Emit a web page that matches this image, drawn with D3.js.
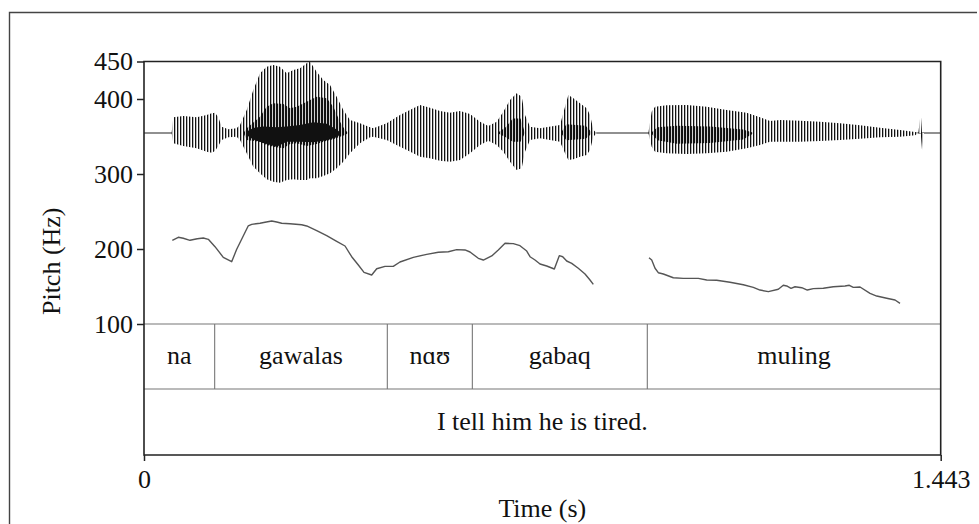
<!DOCTYPE html>
<html>
<head>
<meta charset="utf-8">
<script src="https://cdn.jsdelivr.net/npm/d3@7"></script>
<style>
  body { margin: 0; background: #fff; }
  svg text { font-family: "Liberation Serif", "Times New Roman", serif; font-size: 26px; fill: #111; }
</style>
</head>
<body>
<svg id="chart" width="979" height="524"></svg>
<script>
// ---- data ----
const timeDomain = [0, 1.443];
const pitchDomain = [100, 450];
const pitchTicks = [100, 200, 300, 400, 450];
const timeTicks = [0, 1.443];

// pitch contour, two voiced stretches (s, Hz)
const contour1Time = [0.0513, 0.0621, 0.0712, 0.0833, 0.0965, 0.1074, 0.1165, 0.1286, 0.1436, 0.1588, 0.1679, 0.1887, 0.1951, 0.2101, 0.2192, 0.2313, 0.2404, 0.2494, 0.2644, 0.2856, 0.2947, 0.3128, 0.3309, 0.3490, 0.3641, 0.3762, 0.3882, 0.3985, 0.4124, 0.4215, 0.4365, 0.4515, 0.4636, 0.4878, 0.5120, 0.5331, 0.5512, 0.5664, 0.5814, 0.5905, 0.6055, 0.6146, 0.6298, 0.6417, 0.6539, 0.6689, 0.6810, 0.6932, 0.6992, 0.7082, 0.7173, 0.7294, 0.7432, 0.7522, 0.7584, 0.7656, 0.7747, 0.7866, 0.7988, 0.8078, 0.8138];
const contour1Hz = [211.6, 215.6, 214.3, 211.6, 213.7, 214.7, 212.9, 203.1, 188.9, 183.1, 199.6, 230.7, 232.9, 234.3, 235.6, 237.3, 236.0, 234.3, 233.7, 232.4, 230.7, 224.4, 217.7, 210.3, 204.0, 189.7, 178.7, 168.9, 165.3, 173.7, 176.9, 176.9, 182.7, 188.9, 192.9, 195.6, 196.4, 199.1, 198.7, 196.0, 187.6, 185.3, 190.7, 198.7, 207.6, 207.1, 204.4, 197.3, 189.7, 185.3, 180.0, 177.3, 173.3, 191.1, 189.7, 184.0, 180.9, 174.3, 166.7, 158.7, 152.9];
const contour2Time = [0.9147, 0.9196, 0.9256, 0.9315, 0.9406, 0.9587, 0.9768, 1.0040, 1.0192, 1.0373, 1.0614, 1.0855, 1.1036, 1.1157, 1.1308, 1.1489, 1.1579, 1.1641, 1.1719, 1.1791, 1.1913, 1.2014, 1.2123, 1.2304, 1.2485, 1.2697, 1.2775, 1.2847, 1.2969, 1.3150, 1.3271, 1.3452, 1.3603, 1.3693];
const contour2Hz = [188.4, 185.3, 174.3, 168.4, 166.7, 161.7, 160.9, 160.9, 158.7, 158.3, 155.6, 152.4, 148.9, 145.3, 143.1, 146.3, 151.6, 150.7, 147.6, 149.7, 148.4, 145.3, 147.1, 147.6, 149.7, 150.7, 151.6, 148.9, 149.3, 140.9, 137.3, 134.3, 132.0, 127.6];

// waveform envelope (s, relative amplitude)
const waveTime = [0, 0.050, 0.0531, 0.0712, 0.0954, 0.1135, 0.1226, 0.1286, 0.1346, 0.1407, 0.1527, 0.1678, 0.1739, 0.1860, 0.1980, 0.2101, 0.2222, 0.2343, 0.2463, 0.2584, 0.2705, 0.2826, 0.2946, 0.3007, 0.3127, 0.3248, 0.3369, 0.3490, 0.3610, 0.3731, 0.3912, 0.4094, 0.4154, 0.4395, 0.4637, 0.4878, 0.4999, 0.5180, 0.5361, 0.5542, 0.5724, 0.5905, 0.6086, 0.6237, 0.6388, 0.6508, 0.6629, 0.6750, 0.6841, 0.6901, 0.6992, 0.7173, 0.7535, 0.7626, 0.7686, 0.7777, 0.7897, 0.8018, 0.8079, 0.8139, 0.8199, 0.9135, 0.9195, 0.9256, 0.9467, 0.9829, 1.0192, 1.0554, 1.0916, 1.1157, 1.1338, 1.1520, 1.1882, 1.2244, 1.2607, 1.2969, 1.3331, 1.3694, 1.3966, 1.4025, 1.4068, 1.4092, 1.4128, 1.443];
const waveUpper = [0, 0, 0.218, 0.236, 0.218, 0.25, 0.273, 0.282, 0.218, 0.088, 0.051, 0.065, 0.111, 0.319, 0.597, 0.829, 0.921, 0.944, 0.921, 0.829, 0.875, 0.898, 0.968, 0.99, 0.852, 0.736, 0.667, 0.505, 0.319, 0.181, 0.134, 0.079, 0.065, 0.134, 0.25, 0.343, 0.389, 0.352, 0.306, 0.282, 0.306, 0.264, 0.157, 0.097, 0.157, 0.296, 0.458, 0.551, 0.505, 0.25, 0.088, 0.065, 0.111, 0.366, 0.528, 0.481, 0.412, 0.343, 0.25, 0.042, 0, 0, 0.296, 0.366, 0.384, 0.389, 0.366, 0.319, 0.282, 0.218, 0.167, 0.181, 0.171, 0.157, 0.134, 0.106, 0.074, 0.042, 0.014, 0, 0.282, 0, 0, 0];
const waveLower = [0, 0, -0.144, -0.181, -0.213, -0.259, -0.273, -0.25, -0.181, -0.097, -0.060, -0.051, -0.097, -0.282, -0.468, -0.560, -0.644, -0.676, -0.690, -0.653, -0.644, -0.653, -0.653, -0.630, -0.630, -0.597, -0.560, -0.491, -0.398, -0.282, -0.144, -0.060, -0.051, -0.097, -0.190, -0.282, -0.329, -0.352, -0.384, -0.398, -0.375, -0.282, -0.167, -0.106, -0.167, -0.259, -0.398, -0.514, -0.491, -0.259, -0.097, -0.074, -0.120, -0.282, -0.375, -0.366, -0.329, -0.306, -0.236, -0.051, 0, 0, -0.190, -0.259, -0.282, -0.292, -0.282, -0.259, -0.213, -0.167, -0.120, -0.120, -0.120, -0.111, -0.097, -0.079, -0.060, -0.051, -0.032, 0, 0, -0.236, 0, 0];

// darker middle of the waveform
const midTime = [0.18, 0.1860, 0.2101, 0.2222, 0.2343, 0.2524, 0.2645, 0.2765, 0.2946, 0.3127, 0.3309, 0.3429, 0.3550, 0.3641, 0.37, 0.64, 0.655, 0.668, 0.682, 0.69, 0.755, 0.765, 0.80, 0.812, 0.918, 0.93, 0.965, 1.025, 1.085, 1.105];
const midUpper = [0, 0.065, 0.227, 0.366, 0.412, 0.403, 0.343, 0.366, 0.435, 0.505, 0.481, 0.366, 0.157, 0.042, 0, 0, 0.08, 0.2, 0.2, 0, 0, 0.12, 0.1, 0, 0, 0.08, 0.1, 0.09, 0.05, 0];
const midLower = [0, -0.097, -0.120, -0.167, -0.190, -0.213, -0.153, -0.144, -0.181, -0.153, -0.106, -0.088, -0.051, -0.028, 0, 0, -0.06, -0.12, -0.12, 0, 0, -0.1, -0.08, 0, 0, -0.1, -0.15, -0.14, -0.09, 0];

// solid core of the loud part
const coreTime = [0.1860, 0.1980, 0.2161, 0.2403, 0.2584, 0.2826, 0.3067, 0.3309, 0.3490, 0.3550];
const coreUpper = [0.02, 0.07, 0.09, 0.08, 0.09, 0.11, 0.15, 0.13, 0.05, 0.01];
const coreLower = [-0.03, -0.09, -0.14, -0.19, -0.12, -0.12, -0.13, -0.10, -0.06, -0.02];

// text grid
const wordBounds = [0, 0.128, 0.4407, 0.5947, 0.9116, 1.443];
const wordLabels = ['na', 'gawalas', 'nɑʊ', 'gabaq', 'muling'];
const sentenceLabel = 'I tell him he is tired.';

// ---- layout ----
const svg = d3.select('#chart');
const plot = { left: 144, right: 940.7, top: 61.5, pitchBottom: 324, tierMid: 389, bottom: 455 };

const x = d3.scaleLinear().domain(timeDomain).range([plot.left, plot.right]);
const yPitch = d3.scaleLinear().domain(pitchDomain).range([plot.pitchBottom, plot.top]);
const yAmp = d3.scaleLinear().domain([-1, 1]).range([205, 61]); // waveform sits in the upper half

const defs = svg.append('defs');
defs.append('clipPath').attr('id', 'plotClip')
  .append('rect')
  .attr('x', plot.left).attr('y', plot.top)
  .attr('width', plot.right - plot.left).attr('height', plot.pitchBottom - plot.top);

function stripePattern(id, lineWidth) { // glottal pulses look like vertical stripes
  const p = defs.append('pattern')
    .attr('id', id).attr('patternUnits', 'userSpaceOnUse')
    .attr('width', 3).attr('height', 10);
  p.append('rect').attr('width', 3).attr('height', 10).attr('fill', '#fff');
  p.append('rect').attr('width', lineWidth).attr('height', 10).attr('fill', '#111');
}
stripePattern('stripes', 1.3);
stripePattern('stripesDense', 2.2);

// outer frame (only top/left visible)
svg.append('path')
  .attr('d', 'M9.5,530V12.5H977')
  .attr('fill', 'none').attr('stroke', '#444').attr('stroke-width', 1.4);

// ---- waveform ----
const wave = svg.append('g').attr('clip-path', 'url(#plotClip)');

function envelope(times, upper, lower) {
  return times.map((t, i) => ({ t: t, hi: upper[i], lo: lower[i] }));
}
const envArea = d3.area()
  .x(d => x(d.t))
  .y0(d => yAmp(d.lo))
  .y1(d => yAmp(d.hi));

wave.append('path') // zero line, visible in the silences
  .datum(timeDomain)
  .attr('d', d3.line().x(d => x(d)).y(() => yAmp(0)))
  .attr('fill', 'none').attr('stroke', '#222').attr('stroke-width', 1.2);
wave.append('path')
  .datum(envelope(waveTime, waveUpper, waveLower))
  .attr('d', envArea)
  .attr('fill', 'url(#stripes)');
wave.append('path')
  .datum(envelope(midTime, midUpper, midLower))
  .attr('d', envArea)
  .attr('fill', 'url(#stripesDense)');
wave.append('path')
  .datum(envelope(coreTime, coreUpper, coreLower))
  .attr('d', envArea)
  .attr('fill', '#111');

// ---- pitch contour ----
const pitchLine = d3.line().x(d => x(d[0])).y(d => yPitch(d[1]));
[[contour1Time, contour1Hz], [contour2Time, contour2Hz]].forEach(([ts, hz]) => {
  svg.append('path')
    .datum(ts.map((t, i) => [t, hz[i]]))
    .attr('d', pitchLine)
    .attr('fill', 'none').attr('stroke', '#555').attr('stroke-width', 1.4)
    .attr('stroke-linejoin', 'round');
});

// ---- text grid ----
const grid = svg.append('g').attr('stroke', '#777').attr('stroke-width', 1.1);
grid.append('line').attr('x1', x(timeDomain[0])).attr('x2', x(timeDomain[1]))
  .attr('y1', plot.pitchBottom).attr('y2', plot.pitchBottom);
grid.append('line').attr('x1', x(timeDomain[0])).attr('x2', x(timeDomain[1]))
  .attr('y1', plot.tierMid).attr('y2', plot.tierMid);
grid.selectAll('.bound')
  .data(wordBounds.slice(1, -1))
  .enter().append('line')
  .attr('class', 'bound')
  .attr('x1', d => x(d)).attr('x2', d => x(d))
  .attr('y1', plot.pitchBottom).attr('y2', plot.tierMid);

svg.selectAll('.word')
  .data(wordLabels)
  .enter().append('text')
  .attr('class', 'word')
  .attr('x', (d, i) => x((wordBounds[i] + wordBounds[i + 1]) / 2))
  .attr('y', 363.5)
  .attr('text-anchor', 'middle')
  .text(d => d);

svg.append('text')
  .attr('x', x((timeDomain[0] + timeDomain[1]) / 2))
  .attr('y', 430)
  .attr('text-anchor', 'middle')
  .text(sentenceLabel);

// ---- frame and axes ----
svg.append('path') // top + right + bottom border
  .attr('d', `M${plot.left},${plot.top}H${plot.right}V${plot.bottom}H${plot.left}Z`)
  .attr('fill', 'none').attr('stroke', '#222').attr('stroke-width', 1.6);

const yAxis = d3.axisLeft(yPitch)
  .tickValues(pitchTicks)
  .tickSize(7).tickPadding(4).tickSizeOuter(0)
  .tickFormat(d3.format('d'));
const gy = svg.append('g').attr('transform', `translate(${plot.left},0)`).call(yAxis);
gy.select('.domain').remove();
gy.selectAll('.tick line').attr('stroke', '#222').attr('stroke-width', 1.5);

const xAxis = d3.axisBottom(x)
  .tickValues(timeTicks)
  .tickSize(6).tickPadding(9).tickSizeOuter(0)
  .tickFormat(d => d === 0 ? '0' : d3.format('.3f')(d));
const gx = svg.append('g').attr('transform', `translate(0,${plot.bottom})`).call(xAxis);
gx.select('.domain').remove();
gx.selectAll('.tick line').attr('stroke', '#222').attr('stroke-width', 1.5);

svg.append('text')
  .attr('x', (plot.left + plot.right) / 2)
  .attr('y', 517)
  .attr('text-anchor', 'middle')
  .text('Time (s)');

svg.append('text')
  .attr('transform', `translate(60,${(plot.top + plot.bottom) / 2 + 3}) rotate(-90)`)
  .attr('text-anchor', 'middle')
  .text('Pitch (Hz)');
</script>
</body>
</html>
